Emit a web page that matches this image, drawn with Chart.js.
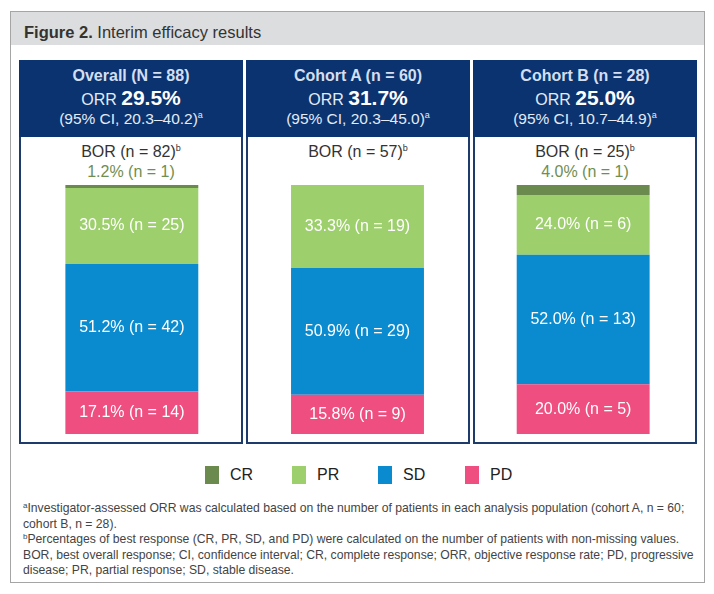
<!DOCTYPE html>
<html>
<head>
<meta charset="utf-8">
<script src="https://cdn.jsdelivr.net/npm/chart.js@4"></script>
<style>
  body { margin: 0; background: #fff; font-family: "Liberation Sans", Arial, sans-serif; }
  #stage { position: relative; width: 714px; height: 594px; overflow: hidden; }
  #frame { position: absolute; left: 10px; top: 11px; width: 695px; height: 572px;
           border: 1px solid #a5a5a5; box-sizing: border-box; }
  #titlebar { position: absolute; left: 0; top: 0; right: 0; height: 33px; background: #dcdddf; }
  #title { position: absolute; left: 13px; top: 10px; font-size: 16.5px; line-height: 20px; color: #333; }
  .panel { position: absolute; top: 60px; width: 224px; height: 384px;
           border: 2px solid #1d3c6c; box-sizing: border-box; background: #fff; }
  .panel .head { position: absolute; left: -2px; right: -2px; top: -2px; height: 77px; background: #0a3370; }
  .txt { position: absolute; left: 0; right: 0; text-align: center; white-space: nowrap; }
  sup { font-size: 9px; vertical-align: 6px; line-height: 0; }
  #chartBox { position: absolute; left: 19px; top: 185px; width: 677px; height: 249px; }
  #legend { position: absolute; top: 466px; left: 0; width: 714px; height: 18px; }
  .lg { position: absolute; top: 0; height: 18px; font-size: 16px; line-height: 18px; color: #222; }
  .lg i { position: absolute; left: 0; top: 0; width: 14px; height: 18px; }
  .lg span { position: absolute; left: 25px; top: 0; }
  #notes { position: absolute; left: 23px; top: 501px; font-size: 12.2px; line-height: 15.5px; color: #444; }
  #notes sup { font-size: 8px; vertical-align: 4px; }
</style>
</head>
<body>
<div id="stage">
  <div id="frame">
    <div id="titlebar"><div id="title"><b>Figure 2.</b> Interim efficacy results</div></div>
  </div>
  <div id="panels"></div>
  <div id="chartBox"><canvas id="bor-chart"></canvas></div>
  <div id="legend"></div>
  <div id="notes">
    <sup>a</sup>Investigator-assessed ORR was calculated based on the number of patients in each analysis population (cohort A, n = 60;<br>
    cohort B, n = 28).<br>
    <sup>b</sup>Percentages of best response (CR, PR, SD, and PD) were calculated on the number of patients with non-missing values.<br>
    BOR, best overall response; CI, confidence interval; CR, complete response; ORR, objective response rate; PD, progressive<br>
    disease; PR, partial response; SD, stable disease.
  </div>
</div>

<script>
  // data
  const categories = ['Overall', 'Cohort A', 'Cohort B'];
  const cohortTitles = ['Overall (N = 88)', 'Cohort A (n = 60)', 'Cohort B (n = 28)'];
  const orrValues = ['29.5%', '31.7%', '25.0%'];
  const ciRanges = ['20.3–40.2', '20.3–45.0', '10.7–44.9'];
  const borCounts = [82, 57, 25];

  const crPct = [1.2, 0, 4.0];
  const crN   = [1, 0, 1];
  const prPct = [30.5, 33.3, 24.0];
  const prN   = [25, 19, 6];
  const sdPct = [51.2, 50.9, 52.0];
  const sdN   = [42, 29, 13];
  const pdPct = [17.1, 15.8, 20.0];
  const pdN   = [14, 9, 5];

  const COLORS = {
    cr: '#6b8b4e',
    pr: '#9dcf6c',
    sd: '#0a8bcf',
    pd: '#ee4e80',
  };

  // ------------------------------------------------------
  // @Panels (headers, BOR text, CR label)
  // ------------------------------------------------------
  const panelLeft = [19, 246, 473];
  const panels = document.getElementById('panels');

  categories.forEach(function (c, i) {
    const p = document.createElement('div');
    p.className = 'panel';
    p.style.left = panelLeft[i] + 'px';
    let html = '<div class="head"></div>';
    html += '<div class="txt" style="top:4px;font-size:16px;line-height:20px;font-weight:bold;color:#d3dff0">' + cohortTitles[i] + '</div>';
    html += '<div class="txt" style="top:23px;font-size:16px;line-height:26px;color:#e4ebf5">ORR <b style="font-size:21px;color:#fff">' + orrValues[i] + '</b></div>';
    html += '<div class="txt" style="top:48px;font-size:15.5px;line-height:18px;color:#e4ebf5">(95% CI, ' + ciRanges[i] + ')<sup>a</sup></div>';
    html += '<div class="txt" style="top:80px;font-size:16px;line-height:20px;color:#333">BOR (n = ' + borCounts[i] + ')<sup>b</sup></div>';
    if (crN[i] > 0) {
      html += '<div class="txt" style="top:100px;font-size:16px;line-height:20px;color:#6f8e50">' +
        crPct[i].toFixed(1) + '% (n = ' + crN[i] + ')</div>';
    }
    p.innerHTML = html;
    panels.appendChild(p);
  });

  // ------------------------------------------------------
  // @Legend
  // ------------------------------------------------------
  const legendItems = [['CR', COLORS.cr, 205], ['PR', COLORS.pr, 292], ['SD', COLORS.sd, 378], ['PD', COLORS.pd, 465]];
  const legend = document.getElementById('legend');
  legendItems.forEach(function (it) {
    const d = document.createElement('div');
    d.className = 'lg';
    d.style.left = it[2] + 'px';
    d.innerHTML = '<i style="background:' + it[1] + '"></i><span>' + it[0] + '</span>';
    legend.appendChild(d);
  });

  // ------------------------------------------------------
  // @Stacked bar chart
  // ------------------------------------------------------
  const segLabels = {
    id: 'segLabels',
    afterDatasetsDraw(chart) {
      const ctx = chart.ctx;
      ctx.save();
      ctx.fillStyle = '#fff';
      ctx.font = '16px "Liberation Sans", Arial, sans-serif';
      ctx.textAlign = 'center';
      ctx.textBaseline = 'middle';
      chart.data.datasets.forEach(function (ds, di) {
        if (!ds.counts) return;
        chart.getDatasetMeta(di).data.forEach(function (el, j) {
          const v = ds.data[j];
          ctx.fillText(v.toFixed(1) + '% (n = ' + ds.counts[j] + ')', el.x, (el.y + el.base) / 2);
        });
      });
      ctx.restore();
    },
  };

  const barCtx = document.getElementById('bor-chart').getContext('2d');

  new Chart(barCtx, {
    type: 'bar',
    data: {
      labels: categories,
      datasets: [{
        label           : 'PD',
        backgroundColor : COLORS.pd,
        data            : pdPct,
        counts          : pdN,
      }, {
        label           : 'SD',
        backgroundColor : COLORS.sd,
        data            : sdPct,
        counts          : sdN,
      }, {
        label           : 'PR',
        backgroundColor : COLORS.pr,
        data            : prPct,
        counts          : prN,
      }, {
        label           : 'CR',
        backgroundColor : COLORS.cr,
        data            : crPct,
      }],
    },

    options: {
      responsive: true,
      maintainAspectRatio: false,
      animation: false,
      layout: { padding: 0 },
      datasets: {
        bar: { barPercentage: 0.589, categoryPercentage: 1, borderWidth: 0 },
      },
      plugins: {
        legend: { display: false },
        tooltip: { enabled: false },
      },
      scales: {
        x: { stacked: true, display: false },
        y: { stacked: true, display: false, min: 0, max: 100 },
      },
    },
    plugins: [segLabels],
  });
</script>
</body>
</html>
